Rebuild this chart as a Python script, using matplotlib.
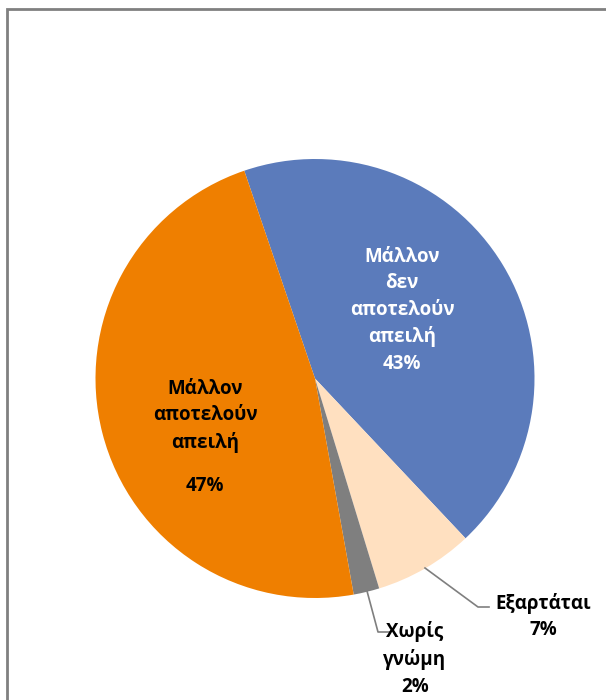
import matplotlib
matplotlib.use("Agg")
import matplotlib.pyplot as plt
from matplotlib.patches import Rectangle
import numpy as np

plt.rcParams['font.family'] = ['Open Sans', 'DejaVu Sans']

# slice data, in drawing order (clockwise from the top-left)
labels = ["Μάλλον\nδεν\nαποτελούν\nαπειλή", "Εξαρτάται", "Χωρίς\nγνώμη", "Μάλλον\nαποτελούν\nαπειλή"]
values = [43.2, 7.3, 1.9, 47.6]
shown = ["43%", "7%", "2%", "47%"]
colors = ["#5B7BBB", "#FFE0C0", "#7F7F7F", "#EF7F00"]

W, H = 606, 700
cx, cy, R = 315, 378.5, 219.5   # pie centre / radius in pixels

fig = plt.figure(figsize=(W / 100, H / 100), dpi=100)
ax = fig.add_axes([0, 0, 1, 1])

# outer chart frame (runs off the right and bottom edges)
fig.patches.append(Rectangle((7 / W, -0.05), 1.1, 1 - 9 / H + 0.05, transform=fig.transFigure,
                             fill=False, edgecolor="#808080", linewidth=2))

wedges, _ = ax.pie(values, colors=colors, startangle=108.8, counterclock=False,
                   radius=1, wedgeprops=dict(linewidth=0))
ax.set_xlim(-cx / R, (W - cx) / R)
ax.set_ylim((cy - H) / R, cy / R)
ax.set_aspect('equal')
ax.axis('off')

fs = 13.5
ls = 1.42
# inside labels
ax.text(0.397, 0.31, labels[0] + "\n" + shown[0], color="white", fontsize=fs, fontweight='bold',
        ha='center', va='center', linespacing=ls)
ax.text(-0.50, -0.171, labels[3], color="black", fontsize=fs, fontweight='bold',
        ha='center', va='center', linespacing=ls)
ax.text(-0.50, -0.49, shown[3], color="black", fontsize=fs, fontweight='bold',
        ha='center', va='center')

# outside labels with leader lines
def px(x, y):
    return (x - cx) / R, (cy - y) / R

lc = "#7F7F7F"
p0, p1, p2 = px(425, 568), px(478, 607), px(489, 607)
ax.plot([p0[0], p1[0], p2[0]], [p0[1], p1[1], p2[1]], color=lc, lw=1.2)
tx, ty = px(543, 616.5)
ax.text(tx, ty, labels[1] + "\n" + shown[1], fontsize=fs, fontweight='bold',
        ha='center', va='center', linespacing=ls)

p0, p1, p2 = px(367, 591), px(378, 632), px(390, 632)
ax.plot([p0[0], p1[0], p2[0]], [p0[1], p1[1], p2[1]], color=lc, lw=1.2)
tx, ty = px(415, 659)
ax.text(tx, ty, labels[2] + "\n" + shown[2], fontsize=fs, fontweight='bold',
        ha='center', va='center', linespacing=ls)

fig.savefig("out.png", dpi=100)
